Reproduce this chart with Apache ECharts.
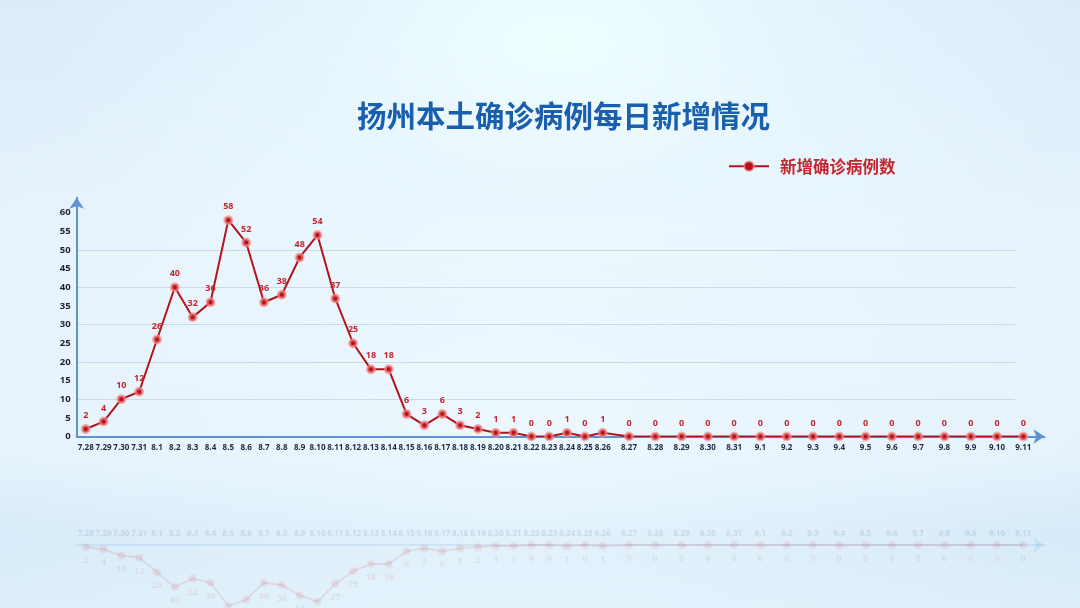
<!DOCTYPE html>
<html>
<head>
<meta charset="utf-8">
<script src="https://cdn.jsdelivr.net/npm/echarts@6/dist/echarts.min.js"></script>
<style>
html,body{margin:0;padding:0;width:1080px;height:608px;overflow:hidden;}
#bg{position:absolute;left:0;top:0;width:1080px;height:608px;
background:
 radial-gradient(ellipse 520px 300px at 560px 40px, rgba(240,255,255,0.95) 0%, rgba(235,250,255,0.5) 50%, rgba(235,250,255,0) 100%),
 radial-gradient(ellipse 700px 420px at 520px 420px, rgba(240,250,255,0.7) 0%, rgba(240,250,255,0) 100%),
 linear-gradient(180deg, #dcecfa 0%, #e6f3fc 40%, #e3f1fb 75%, #d3e8f8 88%, #dbeefa 100%);}
#chart{position:absolute;left:0;top:0;width:1080px;height:608px;}
</style>
</head>
<body>
<div id="bg"></div>
<div id="chart"></div>
<script>
const titleText = '扬州本土确诊病例每日新增情况';
const seriesName = '新增确诊病例数';
const categories = ['7.28','7.29','7.30','7.31','8.1','8.2','8.3','8.4','8.5','8.6','8.7','8.8','8.9','8.10','8.11','8.12','8.13','8.14','8.15','8.16','8.17','8.18','8.19','8.20','8.21','8.22','8.23','8.24','8.25','8.26','8.27','8.28','8.29','8.30','8.31','9.1','9.2','9.3','9.4','9.5','9.6','9.7','9.8','9.9','9.10','9.11'];
const values = [2,4,10,12,26,40,32,36,58,52,36,38,48,54,37,25,18,18,6,3,6,3,2,1,1,0,0,1,0,1,0,0,0,0,0,0,0,0,0,0,0,0,0,0,0,0];
const yTicks = [0,5,10,15,20,25,30,35,40,45,50,55,60];

// the reference widens the day spacing after 8.26
const splitIdx = categories.indexOf('8.26');
const catA = categories.slice(0, splitIdx + 1), valA = values.slice(0, splitIdx + 1);
const catB = categories.slice(splitIdx), valB = values.slice(splitIdx);

const yMin = 0, yMax = 60, yStep = 5;
const plotTop = 212.7, plotBottom = 436.5, plotH = plotBottom - plotTop;
const pxPerUnit = plotH / (yMax - yMin);
const xA0 = 85.7, xSplit = 602.7, xB1 = 1023.3, axisX = 76.7;
const reflTop = 545;

const red = '#b3141c';
const labelRed = '#c4262e';
const axisBlue = '#5d92d3';

const chart = echarts.init(document.getElementById('chart'), null, {renderer: 'canvas'});

const decorTop = plotBottom - 64 * pxPerUnit;
const splitColors = yTicks.map(v => (v > 0 && v < 60 && v % 10 === 0) ? 'rgba(170,190,210,0.5)' : 'rgba(0,0,0,0)');

function dataSeries(xi, yi, data, first, refl) {
  return {
    type: 'line', name: refl ? undefined : seriesName,
    xAxisIndex: xi, yAxisIndex: yi, data: data,
    silent: !!refl,
    symbol: function (v, p) { return (!first && p.dataIndex === 0) ? 'none' : 'circle'; },
    symbolSize: 7,
    showAllSymbol: true,
    lineStyle: {color: red, width: 2, opacity: refl ? 0.1 : 1},
    itemStyle: {color: red, borderColor: 'rgba(246,140,140,0.65)', borderWidth: 3, opacity: refl ? 0.08 : 1},
    label: {
      show: true, position: refl ? 'bottom' : 'top', distance: 4,
      color: labelRed, fontSize: 9, fontWeight: 'bold',
      fontFamily: 'Open Sans, Noto Sans, sans-serif',
      opacity: refl ? 0.1 : 1,
      formatter: function (p) { return (!first && p.dataIndex === 0) ? '' : String(p.value); }
    },
    emphasis: {disabled: true},
    z: refl ? 1 : 5
  };
}

function catAxis(gi, data, hideFirst, opacity, pos) {
  return {
    type: 'category', gridIndex: gi, data: data, boundaryGap: false, position: pos,
    axisLine: {show: false}, axisTick: {show: false},
    axisLabel: {
      show: true, interval: 0, margin: 7, fontSize: 8, fontWeight: 'bold',
      color: 'rgba(30,40,70,' + opacity + ')',
      fontFamily: 'Open Sans, Noto Sans, sans-serif',
      formatter: function (v, i) { return (hideFirst && i === 0) ? '' : v; }
    },
    splitLine: {show: false}
  };
}

function hiddenY(gi, inverse) {
  return {type: 'value', gridIndex: gi, min: yMin, max: yMax, interval: yStep, inverse: !!inverse, show: false};
}

const option = {
  animation: false,
  backgroundColor: 'transparent',
  title: {
    text: titleText, left: 357, top: 101, padding: 0,
    textStyle: {color: '#1a5fae', fontSize: 29.5, fontWeight: 'bold', fontFamily: 'Noto Sans CJK SC'}
  },
  legend: {
    data: [seriesName], left: 728, top: 158, padding: 0,
    itemWidth: 40, itemHeight: 12,
    textStyle: {color: labelRed, fontSize: 16.5, fontWeight: 'bold', fontFamily: 'Noto Sans CJK SC', padding: [0, 0, 0, 6]},
    selectedMode: false
  },
  grid: [
    {left: axisX, top: decorTop, width: 1015 - axisX, height: plotBottom - decorTop},   // 0 y axis + gridlines
    {left: axisX, top: plotTop, width: 1044.5 - axisX, height: plotH},                  // 1 x axis line
    {left: xA0, top: plotTop, width: xSplit - xA0, height: plotH},                      // 2 data A
    {left: xSplit, top: plotTop, width: xB1 - xSplit, height: plotH},                   // 3 data B
    {left: xA0, top: reflTop, width: xSplit - xA0, height: plotH},                      // 4 reflection A
    {left: xSplit, top: reflTop, width: xB1 - xSplit, height: plotH},                   // 5 reflection B
    {left: axisX, top: reflTop, width: 1044.5 - axisX, height: plotH}                   // 6 reflection axis
  ],
  xAxis: [
    {type: 'value', gridIndex: 0, min: 0, max: 1, show: false},
    {type: 'value', gridIndex: 1, min: 0, max: 1, position: 'bottom',
     axisLine: {show: true, onZero: false, symbol: ['none', 'arrow'], symbolSize: [11, 11], lineStyle: {color: axisBlue, width: 2}},
     axisTick: {show: false}, axisLabel: {show: false}, splitLine: {show: false}},
    catAxis(2, catA, false, 1, 'bottom'),
    catAxis(3, catB, true, 1, 'bottom'),
    catAxis(4, catA, false, 0.12, 'top'),
    catAxis(5, catB, true, 0.12, 'top'),
    {type: 'value', gridIndex: 6, min: 0, max: 1, position: 'top',
     axisLine: {show: true, onZero: false, symbol: ['none', 'arrow'], symbolSize: [11, 11], lineStyle: {color: 'rgba(93,146,211,0.14)', width: 2}},
     axisTick: {show: false}, axisLabel: {show: false}, splitLine: {show: false}}
  ],
  yAxis: [
    {type: 'value', gridIndex: 0, min: yMin, max: 64, interval: yStep,
     axisLine: {show: true, symbol: ['none', 'arrow'], symbolSize: [11, 11], lineStyle: {color: axisBlue, width: 2}},
     axisTick: {show: false},
     axisLabel: {margin: 6, fontSize: 9.5, fontWeight: 'bold', color: '#1e2430',
       fontFamily: 'Open Sans, Noto Sans, sans-serif',
       formatter: function (v) { return yTicks.indexOf(v) >= 0 ? String(v) : ''; }},
     splitLine: {show: true, lineStyle: {color: splitColors, width: 1}}},
    {type: 'value', gridIndex: 1, min: 0, max: 1, show: false},
    hiddenY(2), hiddenY(3), hiddenY(4, true), hiddenY(5, true),
    {type: 'value', gridIndex: 6, min: 0, max: 1, show: false}
  ],
  series: [
    dataSeries(2, 2, valA, true, false),
    dataSeries(3, 3, valB, false, false),
    dataSeries(4, 4, valA, true, true),
    dataSeries(5, 5, valB, false, true)
  ]
};
chart.setOption(option);
</script>
</body>
</html>
